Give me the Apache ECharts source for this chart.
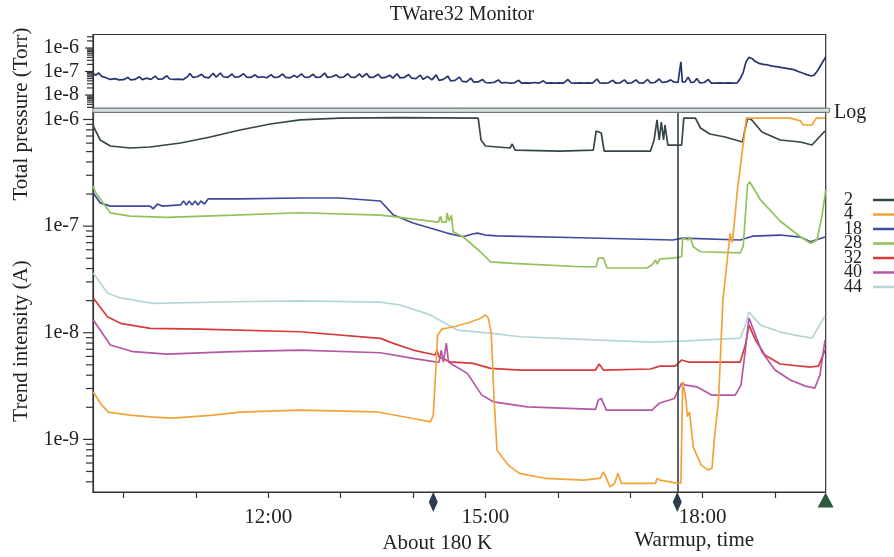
<!DOCTYPE html>
<html><head><meta charset="utf-8">
<script src="https://cdn.jsdelivr.net/npm/echarts@6/dist/echarts.min.js"></script>
<style>html,body{margin:0;padding:0;background:#fff}#c{width:894px;height:557px}</style>
</head><body><div id="c"></div>
<script>
// ---------- DATA (time in hours, values in Torr / A) ----------
const chartTitle = 'TWare32 Monitor';
const seriesNames = ['2', '4', '18', '28', '32', '40', '44'];
const hourTicks = [10, 11, 12, 13, 14, 15, 16, 17, 18, 19];
const hourLabels = [12, 15, 18];
const eventTimes = [14.28, 17.65, 19.699];
const eventLabels = ['About 180 K', 'Warmup, time', ''];

const totalPressure = [
 [9.58,8.0e-8],[9.62,7.0e-8],[9.66,8.6e-8],[9.70,6.2e-8],[9.76,5.4e-8],[9.82,4.6e-8],[9.88,5.0e-8],[9.94,4.4e-8],[10.00,4.5e-8],[10.06,5.6e-8],
 [10.10,4.4e-8],[10.16,4.6e-8],[10.22,6.0e-8],[10.26,4.5e-8],[10.32,5.2e-8],[10.38,4.6e-8],[10.44,6.4e-8],[10.48,4.7e-8],[10.54,4.8e-8],[10.60,6.6e-8],
 [10.64,4.8e-8],[10.70,4.6e-8],[10.76,4.7e-8],[10.82,4.5e-8],[10.88,5.8e-8],[10.92,8.2e-8],[10.96,5.6e-8],[11.02,6.0e-8],[11.08,7.6e-8],[11.12,5.8e-8],
 [11.18,5.4e-8],[11.24,8.4e-8],[11.28,5.8e-8],[11.34,8.6e-8],[11.38,6.0e-8],[11.44,5.6e-8],[11.50,7.8e-8],[11.54,5.7e-8],[11.60,6.0e-8],[11.66,8.0e-8],
 [11.70,5.8e-8],[11.76,5.6e-8],[11.82,7.2e-8],[11.86,5.6e-8],[11.92,6.0e-8],[11.98,5.4e-8],[12.04,7.4e-8],[12.08,5.6e-8],[12.14,5.8e-8],[12.20,7.8e-8],
 [12.24,5.6e-8],[12.30,5.4e-8],[12.36,6.8e-8],[12.40,5.6e-8],[12.46,8.0e-8],[12.50,5.8e-8],[12.56,5.6e-8],[12.62,7.6e-8],[12.66,5.6e-8],[12.72,5.8e-8],
 [12.78,8.6e-8],[12.82,5.6e-8],[12.88,6.0e-8],[12.94,7.2e-8],[12.98,5.6e-8],[13.04,5.8e-8],[13.10,8.0e-8],[13.14,5.8e-8],[13.20,5.6e-8],[13.26,7.8e-8],
 [13.30,5.8e-8],[13.36,8.2e-8],[13.40,5.6e-8],[13.46,5.8e-8],[13.52,7.6e-8],[13.56,5.4e-8],[13.62,5.6e-8],[13.68,7.0e-8],[13.72,5.2e-8],[13.78,8.0e-8],
 [13.82,5.4e-8],[13.88,5.6e-8],[13.94,7.4e-8],[13.98,5.2e-8],[14.04,5.0e-8],[14.10,7.0e-8],[14.14,4.6e-8],[14.20,6.2e-8],[14.26,4.4e-8],[14.32,7.2e-8],
 [14.36,4.2e-8],[14.42,4.6e-8],[14.48,6.4e-8],[14.52,4.0e-8],[14.58,4.2e-8],[14.64,5.8e-8],[14.68,3.8e-8],[14.74,3.6e-8],[14.80,5.2e-8],[14.84,3.5e-8],
 [14.90,3.6e-8],[14.96,4.6e-8],[15.00,3.4e-8],[15.06,3.3e-8],[15.12,3.5e-8],[15.18,4.4e-8],[15.22,3.3e-8],[15.28,3.4e-8],[15.34,3.2e-8],[15.40,3.3e-8],
 [15.46,4.2e-8],[15.50,3.2e-8],[15.56,3.3e-8],[15.62,3.2e-8],[15.68,3.4e-8],[15.74,3.2e-8],[15.80,4.0e-8],[15.84,3.2e-8],[15.90,3.3e-8],[15.96,3.2e-8],
 [16.02,3.3e-8],[16.08,3.2e-8],[16.14,4.6e-8],[16.18,3.3e-8],[16.24,3.2e-8],[16.30,3.3e-8],[16.36,3.2e-8],[16.42,3.3e-8],[16.48,3.2e-8],[16.54,4.8e-8],
 [16.58,3.3e-8],[16.64,3.2e-8],[16.70,3.3e-8],[16.76,4.2e-8],[16.80,3.2e-8],[16.86,3.3e-8],[16.92,4.4e-8],[16.96,3.2e-8],[17.02,3.3e-8],[17.08,4.4e-8],
 [17.12,3.3e-8],[17.18,3.2e-8],[17.24,4.6e-8],[17.28,3.3e-8],[17.34,3.4e-8],[17.40,4.8e-8],[17.44,3.4e-8],[17.50,3.6e-8],[17.56,4.4e-8],[17.60,3.6e-8],
 [17.66,3.4e-8],[17.70,2.6e-7],[17.72,3.6e-8],[17.76,3.6e-8],[17.80,5.8e-8],[17.84,3.4e-8],[17.88,3.5e-8],[17.92,5.0e-8],[17.96,3.3e-8],[18.02,3.4e-8],
 [18.08,4.6e-8],[18.12,3.2e-8],[18.18,3.2e-8],[18.24,3.3e-8],[18.30,3.2e-8],[18.36,3.3e-8],[18.42,3.2e-8],[18.48,3.3e-8],[18.52,5.0e-8],[18.56,9.0e-8],
 [18.60,2.6e-7],[18.64,4.0e-7],[18.68,3.6e-7],[18.72,2.8e-7],[18.78,2.2e-7],[18.84,2.0e-7],[18.90,1.9e-7],[18.96,1.7e-7],[19.02,1.6e-7],[19.08,1.5e-7],
 [19.14,1.4e-7],[19.20,1.3e-7],[19.26,1.2e-7],[19.32,1.0e-7],[19.38,8.6e-8],[19.44,7.4e-8],[19.50,6.4e-8],[19.54,7.0e-8],[19.58,1.0e-7],[19.62,1.6e-7],
 [19.66,2.6e-7],[19.70,4.2e-7]
];

const m2 = [[9.583,8.69e-7],[9.68,6.42e-7],[9.82,5.64e-7],[10.09,5.40e-7],[10.37,5.52e-7],[10.79,6.02e-7],[11.2,6.85e-7],[11.61,7.97e-7],[12.03,9.07e-7],[12.44,9.9e-7],
 [12.99,1.03e-6],[13.82,1.04e-6],[14.90,1.03e-6],[14.94,6.42e-7],[15.0,5.64e-7],[15.34,5.40e-7],[15.37,5.89e-7],[15.41,5.17e-7],[16.03,5.06e-7],[16.49,5.17e-7],
 [16.53,7.80e-7],[16.60,7.47e-7],[16.64,5.06e-7],[17.28,5.06e-7],[17.33,6.42e-7],[17.37,9.9e-7],[17.40,6.42e-7],[17.43,9.47e-7],[17.46,6.42e-7],[17.48,8.88e-7],
 [17.52,5.76e-7],[17.71,5.76e-7],[17.74,1.03e-6],[17.90,1.03e-6],[17.97,8.32e-7],[18.10,7.31e-7],[18.31,6.85e-7],[18.55,6.15e-7],[18.62,1.03e-6],[18.68,9.9e-7],
 [18.82,7.63e-7],[19.07,6.42e-7],[19.35,6.15e-7],[19.51,5.76e-7],[19.69,7.80e-7]];

const m4 = [[9.583,2.78e-9],[9.68,2.19e-9],[9.79,1.80e-9],[10.09,1.69e-9],[10.41,1.62e-9],[10.69,1.585e-9],[11.24,1.69e-9],[11.61,1.80e-9],[12.44,1.88e-9],[13.49,1.815e-9],
 [14.0,1.57e-9],[14.24,1.46e-9],[14.28,1.69e-9],[14.31,4.0e-9],[14.34,9.51e-9],[14.40,1.08e-8],[14.59,1.15e-8],[14.80,1.26e-8],[14.94,1.375e-8],[15.0,1.47e-8],
 [15.04,1.375e-8],[15.08,1.0e-8],[15.12,2.34e-9],[15.16,7.9e-10],[15.315,5.74e-10],[15.47,4.8e-10],[15.84,4.3e-10],[16.36,4.15e-10],[16.59,4.34e-10],[16.63,4.97e-10],
 [16.67,4.34e-10],[16.72,3.59e-10],[16.78,3.81e-10],[16.83,4.8e-10],[16.88,3.87e-10],[17.35,3.87e-10],[17.37,4.3e-10],[17.41,4.15e-10],[17.66,3.87e-10],[17.70,3.89e-10],
 [17.725,3.47e-9],[17.77,2.34e-9],[17.79,1.63e-9],[17.82,1.815e-9],[17.87,8.5e-10],[17.98,5.74e-10],[18.08,5.15e-10],[18.13,5.35e-10],[18.16,9.8e-10],[18.22,2.34e-9],
 [18.28,2.03e-8],[18.34,4.81e-8],[18.38,8.6e-8],[18.41,7.0e-8],[18.45,1.3e-7],[18.48,2.18e-7],[18.55,5.17e-7],[18.605,1.03e-6],[19.21,1.03e-6],[19.35,9.7e-7],
 [19.39,8.88e-7],[19.51,8.88e-7],[19.57,1.03e-6],[19.69,1.03e-6]];

const m18 = [[9.583,2.04e-7],[9.68,1.65e-7],[9.82,1.54e-7],[10.37,1.54e-7],[10.41,1.45e-7],[10.47,1.61e-7],[10.54,1.54e-7],[10.79,1.58e-7],[10.83,1.72e-7],[10.87,1.58e-7],
 [10.91,1.72e-7],[10.95,1.58e-7],[10.99,1.72e-7],[11.03,1.58e-7],[11.07,1.72e-7],[11.12,1.61e-7],[11.17,1.80e-7],[11.61,1.80e-7],[12.44,1.835e-7],[12.99,1.835e-7],
 [13.55,1.72e-7],[13.73,1.27e-7],[14.0,1.07e-7],[14.47,8.61e-8],[14.69,7.95e-8],[14.82,8.43e-8],[14.89,8.61e-8],[15.0,8.25e-8],[15.16,8.1e-8],[16.31,7.78e-8],
 [17.59,7.41e-8],[17.725,7.73e-8],[18.52,7.41e-8],[18.70,8.07e-8],[19.07,8.25e-8],[19.35,7.9e-8],[19.49,7.14e-8],[19.69,7.9e-8]];

const m28 = [[9.583,2.38e-7],[9.61,2.09e-7],[9.82,1.33e-7],[10.09,1.24e-7],[10.6,1.21e-7],[11.52,1.27e-7],[12.44,1.335e-7],[13.55,1.27e-7],[13.73,1.23e-7],[14.35,1.09e-7],
 [14.38,1.24e-7],[14.40,1.09e-7],[14.46,1.09e-7],[14.47,1.33e-7],[14.50,1.116e-7],[14.53,1.27e-7],[14.555,8.86e-8],[14.69,7.95e-8],[14.93,5.75e-8],[15.07,4.63e-8],
 [15.38,4.48e-8],[16.31,4.16e-8],[16.53,4.16e-8],[16.56,5.02e-8],[16.63,5.02e-8],[16.68,4.05e-8],[17.23,4.05e-8],[17.30,4.32e-8],[17.35,4.81e-8],[17.37,4.41e-8],
 [17.41,4.92e-8],[17.59,5.02e-8],[17.71,5.16e-8],[17.725,7.73e-8],[17.80,7.41e-8],[17.83,7.9e-8],[17.87,6.41e-8],[17.97,5.75e-8],[18.52,5.6e-8],[18.56,6.41e-8],
 [18.62,2.43e-7],[18.65,2.61e-7],[18.80,1.76e-7],[19.07,1.116e-7],[19.35,7.95e-8],[19.49,6.9e-8],[19.58,7.41e-8],[19.65,1.27e-7],[19.70,2.18e-7]];

const m32 = [[9.583,2.12e-8],[9.78,1.41e-8],[9.96,1.225e-8],[10.37,1.10e-8],[11.06,1.08e-8],[12.44,1.022e-8],[13.55,8.86e-9],[13.73,7.95e-9],[14.0,6.88e-9],[14.31,6.18e-9],
 [14.33,6.88e-9],[14.36,5.92e-9],[14.51,5.34e-9],[14.83,5.16e-9],[15.07,4.63e-9],[15.48,4.47e-9],[16.52,4.47e-9],[16.57,5.09e-9],[16.63,4.47e-9],[17.28,4.57e-9],
 [17.41,4.87e-9],[17.62,4.87e-9],[17.71,5.55e-9],[17.80,5.31e-9],[17.97,5.31e-9],[18.52,5.31e-9],[18.59,7.67e-9],[18.64,1.18e-8],[18.73,8.54e-9],[18.86,6.18e-9],
 [19.07,5.09e-9],[19.49,4.77e-9],[19.60,4.87e-9],[19.69,6.88e-9]];

const m40 = [[9.583,1.315e-8],[9.82,7.67e-9],[10.135,6.64e-9],[10.6,6.31e-9],[11.52,6.64e-9],[12.44,6.88e-9],[13.55,6.49e-9],[14.0,5.75e-9],[14.31,5.34e-9],[14.36,5.31e-9],
 [14.39,6.88e-9],[14.42,5.31e-9],[14.46,8.0e-9],[14.49,5.31e-9],[14.555,4.98e-9],[14.75,4.16e-9],[14.95,2.6e-9],[15.11,2.25e-9],[15.58,2.02e-9],[16.52,1.91e-9],
 [16.56,2.34e-9],[16.6,2.42e-9],[16.67,1.88e-9],[17.30,1.88e-9],[17.40,2.18e-9],[17.61,2.42e-9],[17.71,3.35e-9],[17.77,3.23e-9],[17.92,3.11e-9],[18.13,2.6e-9],
 [18.45,2.6e-9],[18.53,3.23e-9],[18.59,6.88e-9],[18.64,1.375e-8],[18.73,9.51e-9],[18.82,6.59e-9],[19.0,4.47e-9],[19.21,3.6e-9],[19.42,3.16e-9],[19.55,3.03e-9],
 [19.62,4.0e-9],[19.69,8.54e-9]];

const m44 = [[9.583,3.63e-8],[9.78,2.36e-8],[9.96,2.12e-8],[10.41,1.887e-8],[11.52,1.954e-8],[12.44,1.99e-8],[13.55,1.94e-8],[13.82,1.82e-8],[14.24,1.47e-8],[14.61,1.06e-8],
 [15.07,9.93e-9],[15.48,9.17e-9],[16.59,8.54e-9],[17.28,8.18e-9],[17.69,8.36e-9],[17.97,8.54e-9],[18.52,8.91e-9],[18.59,1.18e-8],[18.64,1.56e-8],[18.80,1.18e-8],
 [19.07,1.015e-8],[19.35,9.3e-9],[19.51,8.91e-9],[19.69,1.435e-8]];

const massData = [m2, m4, m18, m28, m32, m40, m44];

// ---------- STYLE / LAYOUT ----------
const FONT = '"Liberation Serif","Times New Roman",serif';
const colors = ['#36454a', '#f2a43a', '#3f4c9c', '#92c25a', '#d83a3a', '#b457a6', '#b4d6d6'];
const topColor = '#27346e';
const W = 894, H = 557;
const L = 93, R = 825.7, T0 = 34.5, B0 = 108.3, T1 = 112.3, B1 = 492;
const xMin = 9.58, xMax = 19.70;
const topMin = 2.72e-9, topMax = 3.75e-6;
const botMin = 3.21e-10, botMax = 1.168e-6;

function decadeLabel(v) {
  const e = Math.log10(v);
  if (Math.abs(e - Math.round(e)) > 0.01) return '';
  return '1e' + Math.round(e);
}

const chart = echarts.init(document.getElementById('c'), null, {renderer: 'canvas'});

const yCommon = {
  type: 'log', logBase: 10,
  axisLine: {show: true, lineStyle: {color: '#333', width: 1.2}},
  axisTick: {show: false},
  minorTick: {show: false},
  splitLine: {show: false},
  axisLabel: {formatter: decadeLabel, fontFamily: FONT, fontSize: 20, color: '#222', margin: 14,
              showMinLabel: false, showMaxLabel: false}
};

const series = [{
  name: 'P', type: 'line', xAxisIndex: 0, yAxisIndex: 0, data: totalPressure,
  showSymbol: false, symbol: 'none', lineStyle: {color: topColor, width: 1.7}, itemStyle: {color: topColor},
  silent: true
}];
seriesNames.forEach((n, i) => {
  const s = {
    name: n, type: 'line', xAxisIndex: 1, yAxisIndex: 1, data: massData[i],
    showSymbol: false, symbol: 'none', lineStyle: {color: colors[i], width: 1.7}, itemStyle: {color: colors[i]},
    silent: true, z: i === 1 ? 5 : 3
  };
  if (i === 0) {
    s.markLine = {
      silent: true, symbol: ['none', 'none'], label: {show: false},
      lineStyle: {color: '#34424a', width: 1.6, type: 'solid'},
      data: [{xAxis: eventTimes[1]}]
    };
    s.markPoint = {
      silent: true,
      data: [
        {coord: [eventTimes[0], botMin * 1.002], symbol: 'diamond', symbolSize: [9, 20], symbolOffset: [0, 10],
         itemStyle: {color: '#2b3a4e'},
         label: {show: true, position: 'bottom', distance: 21, offset: [4, 0], formatter: eventLabels[0],
                 fontFamily: FONT, fontSize: 21, color: '#222'}},
        {coord: [eventTimes[1], botMin * 1.002], symbol: 'diamond', symbolSize: [9, 20], symbolOffset: [0, 10],
         itemStyle: {color: '#2b3a4e'},
         label: {show: true, position: 'bottom', distance: 18, offset: [17, 0], formatter: eventLabels[1],
                 fontFamily: FONT, fontSize: 21, color: '#222'}},
        {coord: [eventTimes[2], botMin * 1.002], symbol: 'triangle', symbolSize: [16, 15], symbolOffset: [0, 8],
         itemStyle: {color: '#2c5a3c'}, label: {show: false}}
      ]
    };
  }
  series.push(s);
});

chart.setOption({
  animation: false,
  backgroundColor: '#fff',
  legend: {
    data: seriesNames, orient: 'vertical', left: 839, top: 186, align: 'right',
    icon: 'rect', itemWidth: 26, itemHeight: 2.5, itemGap: -3.5, selectedMode: false,
    formatter: n => '{a|' + n + '}',
    textStyle: {fontFamily: FONT, fontSize: 18, color: '#222',
                rich: {a: {width: 24, align: 'left', fontFamily: FONT, fontSize: 18, color: '#222'}}}
  },
  grid: [
    {left: L, right: W - R, top: T0, height: B0 - T0, show: true, borderColor: '#333', borderWidth: 1.2, backgroundColor: 'transparent'},
    {left: L, right: W - R, top: T1, bottom: H - B1, show: true, borderColor: '#333', borderWidth: 1.2, backgroundColor: 'transparent'}
  ],
  xAxis: [
    {type: 'value', gridIndex: 0, min: xMin, max: xMax, show: false},
    {type: 'value', gridIndex: 1, min: xMin, max: xMax,
     axisLine: {show: true, onZero: false, lineStyle: {color: '#333', width: 1.2}},
     axisTick: {show: true, customValues: hourTicks, length: 6, lineStyle: {color: '#333', width: 1.2}},
     axisLabel: {customValues: hourLabels, formatter: v => v + ':00', fontFamily: FONT, fontSize: 21, color: '#222', margin: 15},
     splitLine: {show: false}}
  ],
  yAxis: [
    Object.assign({gridIndex: 0, min: topMin, max: topMax}, yCommon),
    Object.assign({gridIndex: 1, min: botMin, max: botMax}, yCommon)
  ],
  series: series
});

// ---------- decorations positioned through the axes ----------
const g = [];
function addTicks(axisIdx, lo, hi, majorLen, minorLen) {
  for (let k = -11; k <= -4; k++) {
    for (let m = 1; m <= 9; m++) {
      const v = m * Math.pow(10, k);
      if (v < lo || v > hi) continue;
      const y = chart.convertToPixel({yAxisIndex: axisIdx}, v);
      g.push({type: 'line', silent: true, z: 50,
        shape: {x1: L - (m === 1 ? majorLen : minorLen), y1: y, x2: L, y2: y},
        style: {stroke: '#333', lineWidth: 1.2}});
    }
  }
}
addTicks(0, topMin, topMax, 8, 6);
addTicks(1, botMin, botMax, 10, 7);

g.push({type: 'rect', silent: true, z: 100,
  shape: {x: L, y: B0, width: R - L + 4, height: T1 - B0},
  style: {fill: '#d6dfdf', stroke: '#6f8080', lineWidth: 1}});
g.push({type: 'text', silent: true, z: 100, x: 462, y: 15,
  style: {text: chartTitle, fontFamily: FONT, fontSize: 20, fill: '#222', align: 'center', verticalAlign: 'middle'}});
g.push({type: 'text', silent: true, z: 100, x: 21, y: 114, rotation: Math.PI / 2,
  style: {text: 'Total pressure (Torr)', fontFamily: FONT, fontSize: 21, fill: '#222', align: 'center', verticalAlign: 'middle'}});
g.push({type: 'text', silent: true, z: 100, x: 21, y: 341, rotation: Math.PI / 2,
  style: {text: 'Trend intensity (A)', fontFamily: FONT, fontSize: 21, fill: '#222', align: 'center', verticalAlign: 'middle'}});
g.push({type: 'text', silent: true, z: 100, x: 834, y: 113,
  style: {text: 'Log', fontFamily: FONT, fontSize: 20, fill: '#222', align: 'left', verticalAlign: 'middle'}});

chart.setOption({graphic: g});
</script>
</body></html>
